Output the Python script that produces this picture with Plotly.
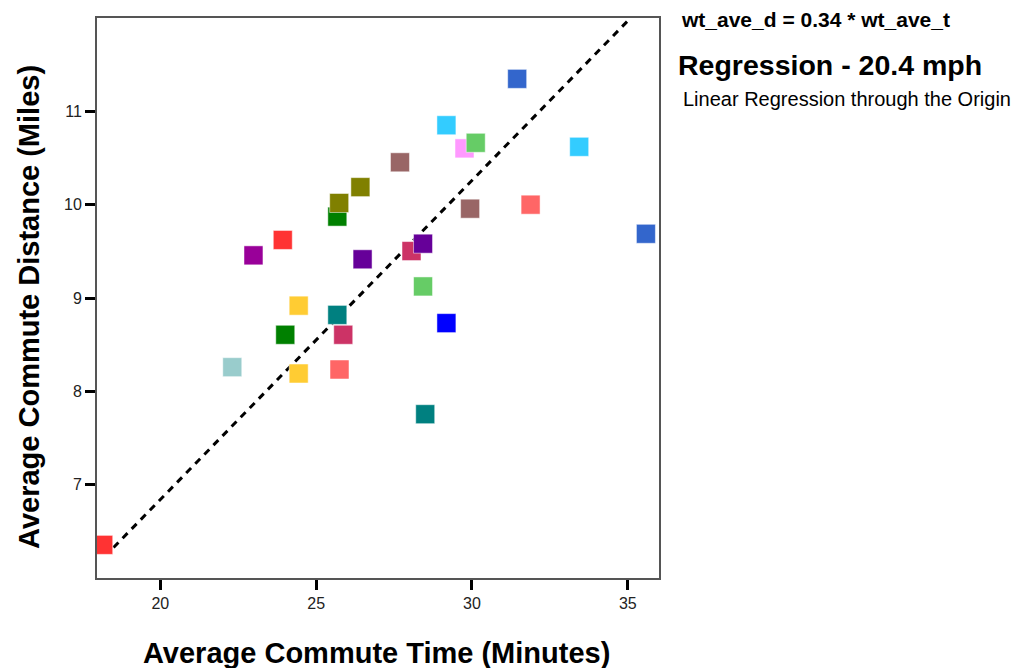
import plotly.graph_objects as go

# Data
commute_time = [18.17, 22.31, 24.44, 25.75, 24.01, 25.87, 25.68, 24.44, 22.99, 23.93,
                25.68, 25.74, 26.42, 26.49, 28.06, 28.43, 28.43, 29.18, 28.50, 27.69,
                29.18, 29.76, 30.12, 29.94, 31.88, 33.44, 31.45, 35.58]
commute_dist = [6.355, 8.259, 8.191, 8.234, 8.606, 8.606, 8.819, 8.918, 9.457, 9.622,
                9.872, 10.018, 10.188, 9.415, 9.503, 9.582, 9.124, 8.731, 7.755, 10.454,
                10.851, 10.603, 10.663, 9.957, 10.0, 10.62, 11.348, 9.688]
point_colors = ["#FF3333", "#99CCCC", "#FFCC33", "#FF6666", "#008000", "#CC3366", "#008080", "#FFCC33",
                "#990099", "#FF3333", "#008000", "#808000", "#808000", "#660099", "#CC3366", "#660099",
                "#66CC66", "#0000FF", "#008080", "#996666", "#33CCFF", "#FF99FF", "#66CC66", "#996666",
                "#FF6666", "#33CCFF", "#3366CC", "#3366CC"]

slope = 0.342  # wt_ave_d = 0.34 * wt_ave_t
fit_x = [18.5, 35.05]
fit_y = [slope * v for v in fit_x]

x_ticks = [20, 25, 30, 35]
y_ticks = [7, 8, 9, 10, 11]

# page has an 8px body margin; figure sized to fit window
W, H = 1026, 660
ML, MT, MR, MB = 89, 8, 375, 90
plot_w = W - ML - MR
plot_h = H - MT - MB


def px2paper(px, py):
    # px, py are page pixel coordinates of the reference
    fx = (px - 8 - ML) / plot_w
    fy = 1 - (py - 8 - MT) / plot_h
    return fx, fy


fig = go.Figure()
fig.add_trace(go.Scatter(x=fit_x, y=fit_y, mode="lines",
                         line=dict(color="black", width=3, dash="7px,6px"),
                         hoverinfo="skip", showlegend=False))
fig.add_trace(go.Scatter(x=commute_time, y=commute_dist, mode="markers",
                         marker=dict(symbol="square", size=19, color=point_colors,
                                     line=dict(width=1, color="rgba(255,255,255,0.5)")),
                         showlegend=False))

FONT = "Liberation Sans, Arial, sans-serif"
axis_font = dict(family=FONT, size=16, color="#222")
fig.update_xaxes(range=[17.97, 36.0], tickvals=x_ticks, ticks="outside", ticklen=10,
                 tickwidth=3, tickcolor="black", showline=True, mirror=True,
                 linecolor="#555", linewidth=2, showgrid=False, zeroline=False,
                 tickfont=axis_font)
fig.update_yaxes(range=[6.0, 12.0], tickvals=y_ticks, ticks="outside", ticklen=10,
                 tickwidth=3, tickcolor="black", showline=True, mirror=True,
                 linecolor="#555", linewidth=2, showgrid=False, zeroline=False,
                 tickfont=axis_font)

anns = []
fx, fy = px2paper(376, 653)
anns.append(dict(text="<b>Average Commute Time (Minutes)</b>", x=fx, y=fy, xanchor="center",
                 yanchor="middle", font=dict(family=FONT, size=29, color="black")))
fx, fy = px2paper(29, 306)
anns.append(dict(text="<b>Average Commute Distance (Miles)</b>", x=fx, y=fy, xanchor="center",
                 yanchor="middle", textangle=-90, font=dict(family=FONT, size=29, color="black")))
fx, fy = px2paper(679, 18)
anns.append(dict(text="<b>wt_ave_d = 0.34 * wt_ave_t</b>", x=fx, y=fy, xanchor="left", yanchor="middle",
                 font=dict(family=FONT, size=21, color="black")))
fx, fy = px2paper(676, 63)
anns.append(dict(text="<b>Regression - 20.4 mph</b>", x=fx, y=fy, xanchor="left", yanchor="middle",
                 font=dict(family=FONT, size=28.5, color="black")))
fx, fy = px2paper(681, 97)
anns.append(dict(text="Linear Regression through the Origin", x=fx, y=fy, xanchor="left", yanchor="middle",
                 font=dict(family=FONT, size=20, color="black")))
for a in anns:
    a.update(xref="paper", yref="paper", showarrow=False)

fig.update_layout(
    width=W, height=H,
    margin=dict(l=ML, r=MR, t=MT, b=MB),
    paper_bgcolor="white", plot_bgcolor="white",
    annotations=anns,
)

fig.write_html("out.html")
